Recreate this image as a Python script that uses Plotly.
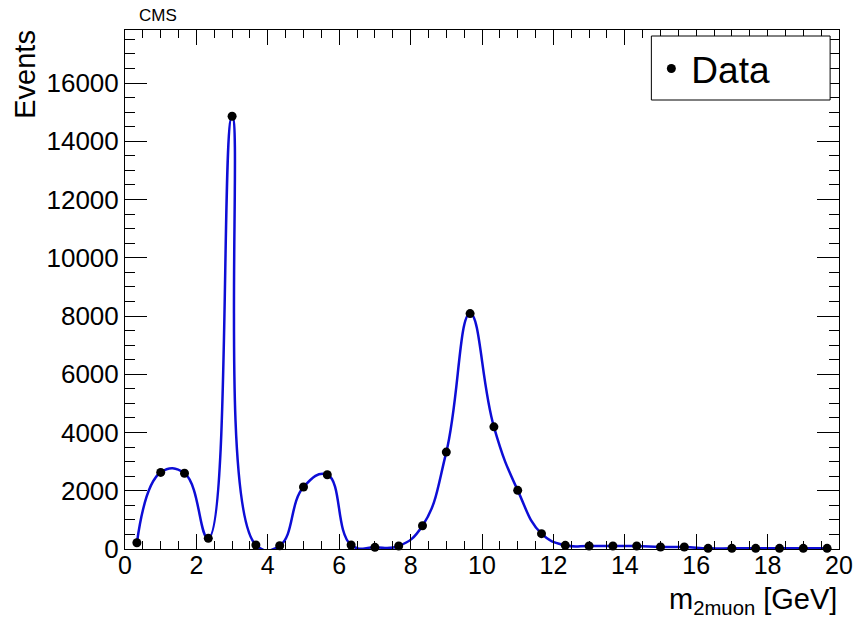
import numpy as np
import plotly.graph_objects as go

# Dimuon invariant-mass spectrum, 30 bins between 0 and 20 GeV
bin_edges = np.linspace(0.0, 20.0, 31)
mass_gev = (bin_edges[:-1] + bin_edges[1:]) / 2.0
events = [215, 2630, 2600, 367, 14860, 137, 113, 2127, 2550, 137,
          58, 103, 800, 3327, 8083, 4195, 2013, 526, 126, 103,
          103, 103, 69, 69, 23, 23, 23, 23, 23, 23]

x_ticks = [0, 2, 4, 6, 8, 10, 12, 14, 16, 18, 20]
x_tick_labels = ["0", "2", "4", "6", "8", "10", "12", "14", "16", "18", "20"]
y_ticks = [0, 2000, 4000, 6000, 8000, 10000, 12000, 14000, 16000]
y_tick_labels = ["0", "2000", "4000", "6000", "8000", "10000", "12000",
                 "14000", "16000"]

FONT = "Liberation Sans, Arial, Helvetica, sans-serif"
W, H = 865, 628
ML, MR, MT, MB = 125, 17, 30, 79
PW, PH = W - ML - MR, H - MT - MB


def px_x(p):
    return (p - ML) / PW


def px_y(p):
    return (H - MB - p) / PH


fig = go.Figure()

# smooth curve through the bin contents
fig.add_trace(go.Scatter(
    x=mass_gev, y=events, mode="lines",
    line=dict(color="#0d0dd6", width=2.5, shape="spline", smoothing=1.3),
    showlegend=False, hoverinfo="skip",
))

# data points
fig.add_trace(go.Scatter(
    x=mass_gev, y=events, mode="markers", name="Data",
    marker=dict(color="black", size=9, symbol="circle"),
    cliponaxis=False,
))

axis_common = dict(
    showgrid=False, zeroline=False, showline=True, linecolor="black",
    linewidth=1, mirror="ticks", ticks="inside", tickcolor="black",
    tickwidth=1, tickmode="array",
)

fig.update_xaxes(
    range=[0, 20], tickvals=x_ticks, ticktext=x_tick_labels,
    ticklen=15, ticklabelstandoff=-6,
    tickfont=dict(family=FONT, size=25, color="black"),
    minor=dict(dtick=0.5, ticks="inside", ticklen=8, tickcolor="black",
               showgrid=False),
    **axis_common,
)
fig.update_yaxes(
    range=[0, 17820], tickvals=y_ticks, ticktext=y_tick_labels,
    ticklen=22, ticklabelstandoff=0,
    tickfont=dict(family=FONT, size=26, color="black"),
    minor=dict(dtick=500, ticks="inside", ticklen=10, tickcolor="black",
               showgrid=False),
    **axis_common,
)

# legend frame
fig.add_shape(type="rect", xref="paper", yref="paper",
              x0=px_x(658), x1=px_x(839), y0=px_y(100), y1=px_y(36),
              line=dict(color="black", width=1), fillcolor="white", layer="above")

annotations = [
    dict(text="CMS", x=px_x(137), y=px_y(16), xanchor="left", yanchor="middle",
         font=dict(family=FONT, size=17, color="black")),
    dict(text="Events", x=px_x(24), y=px_y(28), xanchor="center", yanchor="top",
         textangle=-90, font=dict(family=FONT, size=29, color="black")),
    dict(text="m<sub>2muon</sub> [GeV]", x=px_x(848), y=px_y(581),
         xanchor="right", yanchor="top",
         font=dict(family=FONT, size=29, color="black")),
]
for a in annotations:
    a.update(xref="paper", yref="paper", showarrow=False)
fig.update_layout(annotations=annotations)

fig.update_layout(
    width=W, height=H,
    margin=dict(l=ML, r=MR, t=MT, b=MB, pad=0),
    paper_bgcolor="white", plot_bgcolor="white",
    font=dict(family=FONT, color="black"),
    showlegend=True,
    legend=dict(x=px_x(658), y=px_y(38), xanchor="left", yanchor="top",
                bgcolor="rgba(0,0,0,0)", borderwidth=0,
                font=dict(family=FONT, size=37, color="black")),
)

fig.write_html("out.html")
